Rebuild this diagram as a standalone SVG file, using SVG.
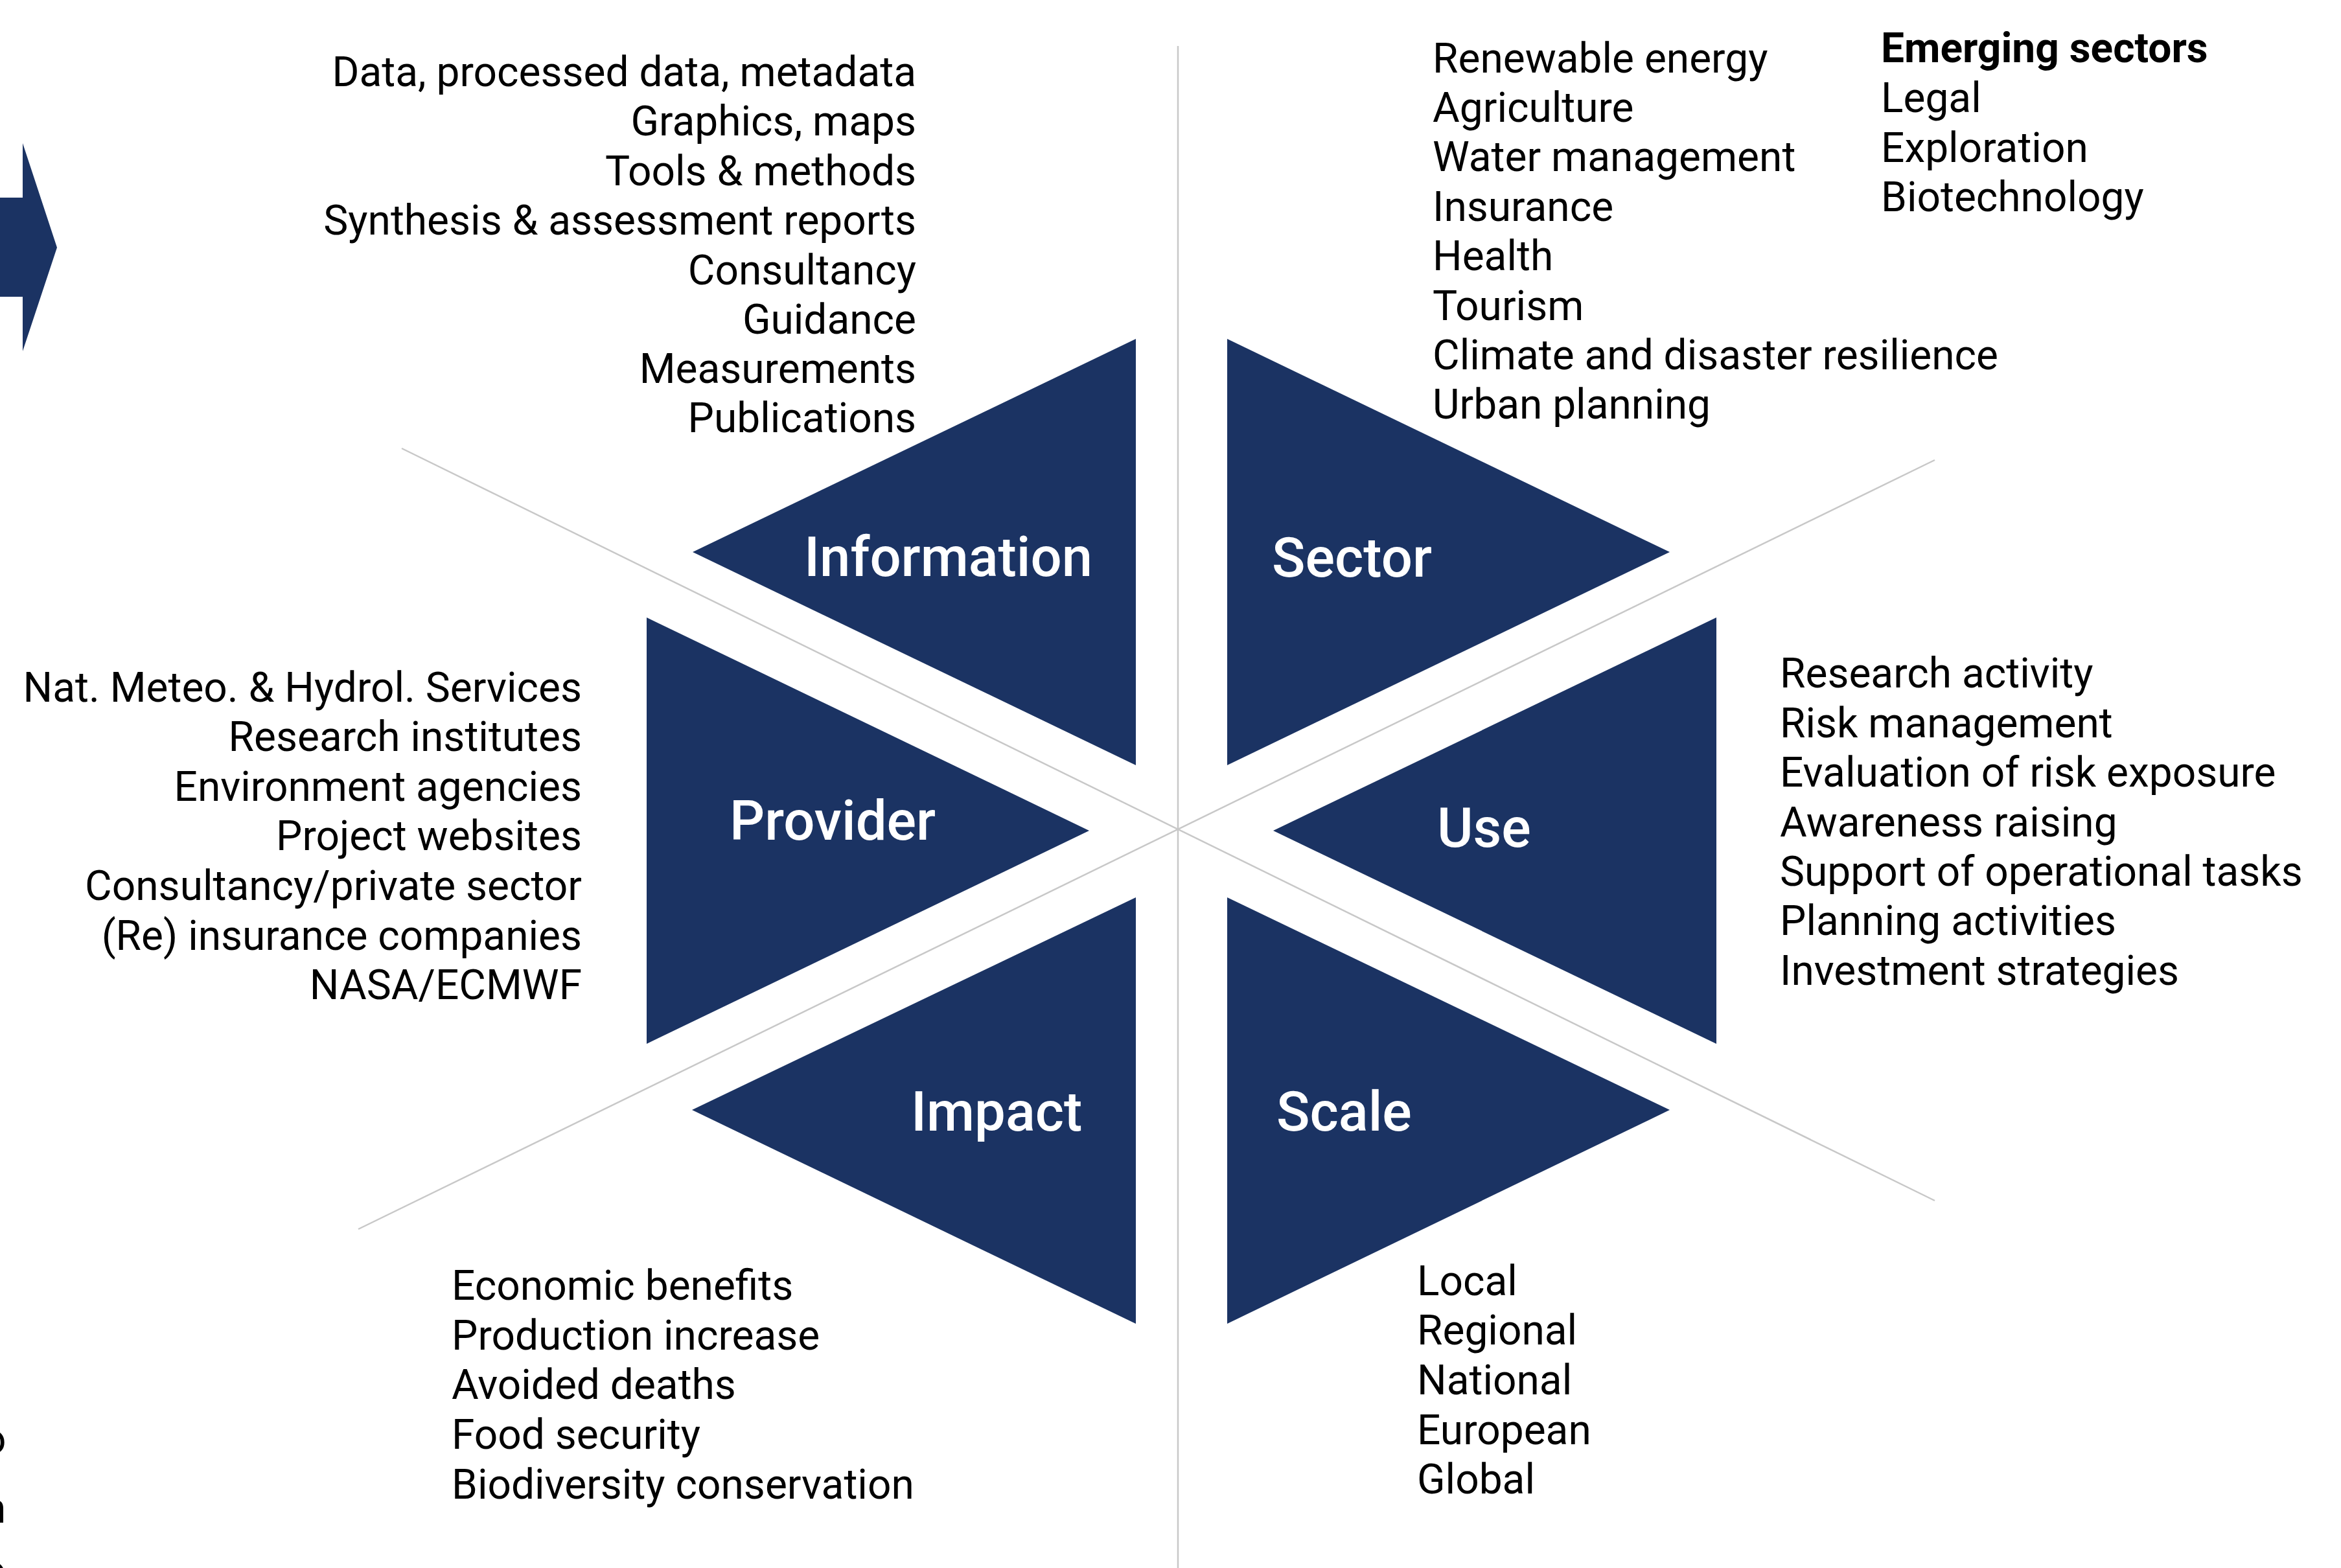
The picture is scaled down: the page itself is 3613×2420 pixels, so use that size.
<svg xmlns="http://www.w3.org/2000/svg" width="3613" height="2420" viewBox="0 0 3613 2420">
  <style>
    .tri { fill: #1b3363; }
    .guide { stroke: #c8c8c8; stroke-width: 2.5; fill: none; }
    .lbl { font-family: Roboto, "Liberation Sans", sans-serif; font-size: 85px; font-weight: 500; fill: #ffffff; }
    .item { font-family: Roboto, "Liberation Sans", sans-serif; font-size: 64px; fill: #000000; }
    .head { font-family: Roboto, "Liberation Sans", sans-serif; font-size: 64px; font-weight: 700; fill: #000000; }
    .end { text-anchor: end; }
  </style>
  <rect width="3613" height="2420" fill="#ffffff"/>

  <!-- guide lines crossing at the centre of the hexagon -->
  <g id="connectors">
    <line class="guide" x1="1818" y1="71" x2="1818" y2="2420"/>
    <line class="guide" x1="620" y1="692" x2="2986" y2="1853"/>
    <line class="guide" x1="553" y1="1897" x2="2986" y2="710"/>
  </g>

  <!-- arrow entering from the left edge -->
  <g id="arrow">
    <polygon class="tri" points="0,305 35,305 35,221 88,382 35,542 35,458 0,458"/>
  </g>

  <!-- edge fragments of text beyond the left border -->
  <g id="edge-text" class="item">
    <text x="-27" y="2243">o</text>
    <text x="-26" y="2350">n</text>
    <text x="-27" y="2446">o</text>
  </g>

  <g id="information">
    <polygon class="tri" points="1069,852 1753,523 1753,1181"/>
    <text class="lbl" x="1241" y="889">Information</text>
    <g class="item end">
      <text x="1414" y="133">Data, processed data, metadata</text>
      <text x="1414" y="209">Graphics, maps</text>
      <text x="1414" y="286">Tools &amp; methods</text>
      <text x="1414" y="362">Synthesis &amp; assessment reports</text>
      <text x="1414" y="439">Consultancy</text>
      <text x="1414" y="515">Guidance</text>
      <text x="1414" y="591">Measurements</text>
      <text x="1414" y="667">Publications</text>
    </g>
  </g>

  <g id="sector">
    <polygon class="tri" points="1894,523 2577,852 1894,1181"/>
    <text class="lbl" x="1963" y="890">Sector</text>
    <g class="item">
      <text x="2211" y="112">Renewable energy</text>
      <text x="2211" y="188">Agriculture</text>
      <text x="2211" y="264">Water management</text>
      <text x="2211" y="341">Insurance</text>
      <text x="2211" y="417">Health</text>
      <text x="2211" y="494">Tourism</text>
      <text x="2211" y="570">Climate and disaster resilience</text>
      <text x="2211" y="646">Urban planning</text>
    </g>
    <text class="head" x="2903" y="96">Emerging sectors</text>
    <g class="item">
      <text x="2903" y="173">Legal</text>
      <text x="2903" y="250">Exploration</text>
      <text x="2903" y="326">Biotechnology</text>
    </g>
  </g>

  <g id="provider">
    <polygon class="tri" points="998,953 1681,1282 998,1611"/>
    <text class="lbl" x="1126" y="1296">Provider</text>
    <g class="item end">
      <text x="898" y="1083">Nat. Meteo. &amp; Hydrol. Services</text>
      <text x="898" y="1159">Research institutes</text>
      <text x="898" y="1236">Environment agencies</text>
      <text x="898" y="1312">Project websites</text>
      <text x="898" y="1389">Consultancy/private sector</text>
      <text x="898" y="1466">(Re) insurance companies</text>
      <text x="898" y="1542">NASA/ECMWF</text>
    </g>
  </g>

  <g id="use">
    <polygon class="tri" points="1965,1282 2649,953 2649,1611"/>
    <text class="lbl" x="2218" y="1307">Use</text>
    <g class="item">
      <text x="2747" y="1061">Research activity</text>
      <text x="2747" y="1138">Risk management</text>
      <text x="2747" y="1214">Evaluation of risk exposure</text>
      <text x="2747" y="1291">Awareness raising</text>
      <text x="2747" y="1367">Support of operational tasks</text>
      <text x="2747" y="1443">Planning activities</text>
      <text x="2747" y="1520">Investment strategies</text>
    </g>
  </g>

  <g id="impact">
    <polygon class="tri" points="1068,1713 1753,1385 1753,2043"/>
    <text class="lbl" x="1406" y="1745">Impact</text>
    <g class="item">
      <text x="697" y="2006">Economic benefits</text>
      <text x="697" y="2083">Production increase</text>
      <text x="697" y="2159">Avoided deaths</text>
      <text x="697" y="2236">Food security</text>
      <text x="697" y="2313">Biodiversity conservation</text>
    </g>
  </g>

  <g id="scale">
    <polygon class="tri" points="1894,1385 2577,1713 1894,2043"/>
    <text class="lbl" x="1970" y="1745">Scale</text>
    <g class="item">
      <text x="2187" y="1999">Local</text>
      <text x="2187" y="2075">Regional</text>
      <text x="2187" y="2152">National</text>
      <text x="2187" y="2229">European</text>
      <text x="2187" y="2305">Global</text>
    </g>
  </g>
</svg>
